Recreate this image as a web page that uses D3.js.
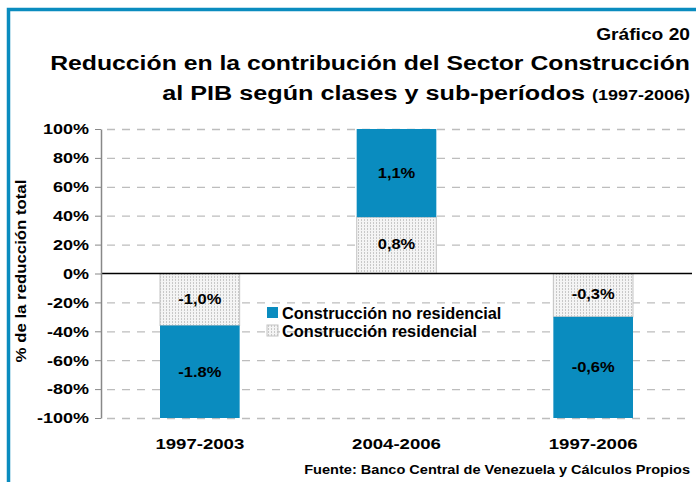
<!DOCTYPE html>
<html>
<head>
<meta charset="utf-8">
<script src="https://cdn.jsdelivr.net/npm/d3@7"></script>
<style>
  body { margin: 0; background: #fff; }
  svg text { font-family: Arial, "Liberation Sans", sans-serif; font-weight: bold; fill: #000; }
</style>
</head>
<body>
<svg id="chart" width="696" height="482"></svg>
<script>
// periods on the x axis
var periods = ['1997-2003', '2004-2006', '1997-2006'];
// share of total reduction (%), residential part sits next to zero
var residencial = [-36, 39, -30];
var noResidencial = [-64, 61, -70];
// labels printed in the bars
var labelsResidencial = ['-1,0%', '0,8%', '-0,3%'];
var labelsNoResidencial = ['-1.8%', '1,1%', '-0,6%'];
var yTicks = [-100, -80, -60, -40, -20, 0, 20, 40, 60, 80, 100];

var blue = '#0a8cbf';
var svg = d3.select('#chart');

// the source type is a bit wider than Arial, so stretch horizontally
function addText(parent, x, y, str, size, sx, anchor) {
    return parent.append('text')
        .attr('transform', 'translate(' + x + ',' + y + ') scale(' + sx + ',1)')
        .attr('text-anchor', anchor || 'start')
        .style('font-size', size + 'px')
        .text(str);
}

// dotted fill for the residential series
var defs = svg.append('defs');
var pat = defs.append('pattern')
    .attr('id', 'dots')
    .attr('patternUnits', 'userSpaceOnUse')
    .attr('width', 3).attr('height', 3);
pat.append('rect').attr('width', 3).attr('height', 3).attr('fill', '#f4f4f4');
pat.append('rect').attr('x', 1).attr('width', 1).attr('height', 2).attr('fill', '#c8c8c8');

// frame
svg.append('path')
    .attr('d', 'M8.5,490 V9.5 H700')
    .attr('fill', 'none')
    .attr('stroke', blue)
    .attr('stroke-width', 3.5);

// titles
addText(svg, 690, 40, 'Gráfico 20', 16, 1.2, 'end');
addText(svg, 690, 70, 'Reducción en la contribución del Sector Construcción', 21, 1.18, 'end');
var t3 = addText(svg, 690, 100, '', 21, 1.2, 'end');
t3.append('tspan').text('al PIB según clases y sub-períodos ');
t3.append('tspan').style('font-size', '15px').text('(1997-2006)');

var margin = {left: 101, right: 4, top: 129, bottom: 64};
var x = d3.scaleBand()
    .domain(periods)
    .range([margin.left, 696 - margin.right])
    .paddingInner(0.595)
    .paddingOuter(0.3);
var y = d3.scaleLinear()
    .domain([-100, 100])
    .range([418, 129]);

// gridlines
svg.append('g').selectAll('line')
    .data(yTicks.filter(function (d) { return d !== 0; }))
    .enter().append('line')
    .attr('x1', margin.left + 6).attr('x2', 692)
    .attr('y1', function (d) { return y(d) + 0.5; })
    .attr('y2', function (d) { return y(d) + 0.5; })
    .attr('stroke', '#bdbdbd')
    .attr('stroke-width', 1.3)
    .attr('stroke-dasharray', '8,7');

// bars: residential from 0, non residential stacked after it
var bars = svg.append('g');
periods.forEach(function (p, i) {
    var r = residencial[i], n = noResidencial[i];
    var cx = x(p) + x.bandwidth() / 2;
    bars.append('rect')
        .attr('x', x(p))
        .attr('width', x.bandwidth())
        .attr('y', y(Math.max(0, r)))
        .attr('height', Math.abs(y(r) - y(0)))
        .attr('fill', 'url(#dots)')
        .attr('stroke', '#c4c4c4')
        .attr('stroke-width', 1);
    bars.append('rect')
        .attr('x', x(p))
        .attr('width', x.bandwidth())
        .attr('y', y(Math.max(r, r + n)))
        .attr('height', Math.abs(y(r + n) - y(r)))
        .attr('fill', blue);
    addText(bars, cx, y(r / 2) + 4, labelsResidencial[i], 15, 1.1, 'middle');
    addText(bars, cx, y(r + n / 2) + 5, labelsNoResidencial[i], 15, 1.1, 'middle');
});

// zero line
svg.append('line')
    .attr('x1', margin.left).attr('x2', 692)
    .attr('y1', y(0)).attr('y2', y(0))
    .attr('stroke', '#000').attr('stroke-width', 1.5);

// y axis
var yAxis = svg.append('g')
    .attr('transform', 'translate(' + margin.left + ',0)')
    .call(d3.axisLeft(y).tickValues(yTicks).tickSize(6).tickSizeOuter(0)
        .tickFormat(function (d) { return d + '%'; }));
yAxis.select('.domain').attr('stroke', '#888').attr('stroke-width', 1.5);
yAxis.selectAll('.tick line').attr('stroke', '#888');
yAxis.selectAll('.tick text')
    .attr('x', 0)
    .attr('transform', 'translate(-12,0) scale(1.2,1)')
    .style('font-size', '15px')
    .attr('fill', '#000');

svg.append('text')
    .attr('transform', 'translate(26,271) rotate(-90) scale(1.12,1)')
    .attr('text-anchor', 'middle')
    .style('font-size', '15px')
    .text('% de la reducción total');

// x labels
periods.forEach(function (p) {
    addText(svg, x(p) + x.bandwidth() / 2, 449, p, 15.5, 1.2, 'middle');
});

// legend
var legend = svg.append('g').attr('transform', 'translate(267,307)');
legend.append('rect').attr('width', 11).attr('height', 11).attr('fill', blue);
addText(legend, 15, 12, 'Construcción no residencial', 16, 1.02);
legend.append('rect').attr('y', 18).attr('width', 11).attr('height', 11)
    .attr('fill', 'url(#dots)').attr('stroke', '#c4c4c4');
addText(legend, 15, 30, 'Construcción residencial', 16, 1.02);

addText(svg, 690, 474, 'Fuente: Banco Central de Venezuela y Cálculos Propios', 13, 1.12, 'end');
</script>
</body>
</html>
